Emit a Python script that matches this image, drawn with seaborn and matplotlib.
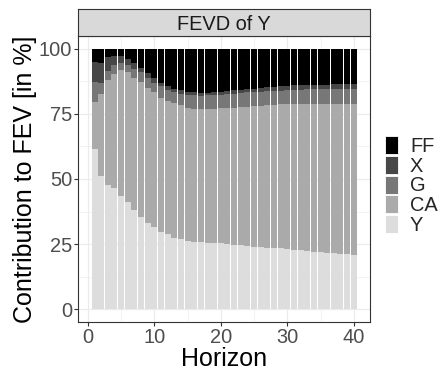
import numpy as np
import pandas as pd
import matplotlib
matplotlib.use("Agg")
import matplotlib.pyplot as plt
import seaborn as sns
from matplotlib.patches import Patch

# ---------------- data ----------------
horizon = list(range(1, 41))
fevd_Y = [61.6, 51.0, 47.6, 46.4, 43.3, 41.0, 38.2, 35.6, 33.3, 31.4,
          29.8, 28.7, 27.5, 26.9, 26.3, 26.0, 25.8, 25.3, 25.3, 25.3,
          24.9, 24.8, 24.6, 24.4, 24.0, 23.8, 23.7, 23.5, 23.4, 23.1,
          22.9, 22.8, 22.5, 22.1, 22.0, 21.7, 21.6, 21.3, 21.3, 21.0]
fevd_CA = [18.0, 31.6, 40.4, 44.0, 48.6, 49.9, 50.6, 51.7, 51.8, 51.8,
           51.3, 51.2, 51.5, 51.4, 50.9, 51.0, 51.1, 51.6, 51.7, 51.8,
           52.3, 52.6, 52.9, 53.2, 53.9, 54.3, 54.7, 55.0, 55.3, 55.7,
           55.9, 56.0, 56.3, 56.7, 56.8, 57.1, 57.2, 57.5, 57.5, 57.8]
fevd_G = [7.7, 4.4, 3.5, 3.4, 2.8, 2.7, 3.5, 3.6, 3.8, 3.8,
          4.6, 4.3, 4.4, 4.3, 4.9, 5.1, 5.1, 5.2, 5.3, 5.2,
          5.3, 5.2, 5.4, 5.6, 5.5, 5.4, 5.3, 5.3, 5.2, 5.4,
          5.5, 5.5, 5.6, 5.6, 5.6, 5.8, 5.8, 5.8, 5.8, 5.8]
fevd_X = [7.7, 7.5, 5.5, 3.5, 2.7, 2.5, 2.4, 1.8, 1.8, 1.8,
          1.3, 1.5, 1.2, 1.6, 1.4, 1.1, 0.9, 0.8, 0.9, 1.0,
          1.3, 1.5, 1.4, 1.2, 1.3, 1.6, 1.5, 1.7, 1.7, 1.5,
          1.6, 1.7, 1.7, 1.7, 1.7, 1.6, 1.8, 1.9, 1.9, 1.9]
fevd_FF = [5.0, 5.5, 3.0, 2.7, 2.6, 3.9, 5.3, 7.3, 9.3, 11.2,
           13.0, 14.3, 15.4, 15.8, 16.5, 16.8, 17.1, 17.1, 16.8, 16.7,
           16.2, 15.9, 15.7, 15.6, 15.3, 14.9, 14.8, 14.5, 14.4, 14.3,
           14.1, 14.0, 13.9, 13.9, 13.9, 13.8, 13.6, 13.5, 13.5, 13.5]

variables = ["FF", "X", "G", "CA", "Y"]
colors = ["#000000", "#474747", "#777777", "#AAAAAA", "#DDDDDD"]
x_ticks = [0, 10, 20, 30, 40]
y_ticks = [0, 25, 50, 75, 100]

series = {"FF": fevd_FF, "X": fevd_X, "G": fevd_G, "CA": fevd_CA, "Y": fevd_Y}
df = pd.concat(
    [pd.DataFrame({"Horizon": horizon, "variable": v, "value": series[v]})
     for v in variables],
    ignore_index=True,
)
palette = dict(zip(variables, colors))

# ---------------- style ----------------
sns.set_theme(style="white")
plt.rcParams["font.family"] = ["Liberation Sans", "DejaVu Sans"]

W, H = 443, 374
fig = plt.figure(figsize=(W / 100, H / 100), dpi=100)

pl, pr, pb, pt = 78.3, 370.0, 322.3, 35.7
strip_top = 9.3
ax = fig.add_axes([pl / W, 1 - pb / H, (pr - pl) / W, (pb - pt) / H])

sns.histplot(
    data=df, x="Horizon", weights="value", hue="variable",
    hue_order=variables, multiple="stack", discrete=True, shrink=0.9,
    palette=palette, alpha=1, linewidth=0, legend=False, ax=ax, zorder=2,
)

ax.set_xlim(-1.445, 42.445)
ax.set_ylim(-5, 105)
ax.set_xticks(x_ticks)
ax.set_yticks(y_ticks)
ax.set_xticks([5, 15, 25, 35], minor=True)
ax.set_yticks([12.5, 37.5, 62.5, 87.5], minor=True)
ax.set_axisbelow(True)
ax.grid(which="major", color="#EBEBEB", lw=0.8, zorder=0)
ax.grid(which="minor", color="#EBEBEB", lw=0.4, zorder=0)
ax.set_facecolor("white")
for s in ax.spines.values():
    s.set_visible(True)
    s.set_color("#333333")
    s.set_linewidth(0.8)

ax.tick_params(which="major", length=2.9, width=0.8, color="#333333",
               labelsize=14.4, labelcolor="#4D4D4D", pad=1.5,
               bottom=True, left=True)
ax.tick_params(which="minor", length=0)

ax.set_xlabel("Horizon", fontsize=18, color="black")
ax.set_ylabel("Contribution to FEV [in %]", fontsize=18, color="black")
ax.xaxis.label.set_va("baseline")
ax.xaxis.set_label_coords(0.5, (pb - 366.5) / (pb - pt))
ax.yaxis.label.set_va("baseline")
ax.yaxis.set_label_coords((31.7 - pl) / (pr - pl), 0.5)

# facet strip
sax = fig.add_axes([pl / W, 1 - pt / H, (pr - pl) / W, (pt - strip_top) / H])
sax.set_facecolor("#D9D9D9")
sax.set_xticks([])
sax.set_yticks([])
for s in sax.spines.values():
    s.set_visible(True)
    s.set_color("#333333")
    s.set_linewidth(0.8)
sax.text(0.5, 0.5, "FEVD of Y", ha="center", va="center_baseline",
         fontsize=14.4, color="#1A1A1A", transform=sax.transAxes)

# legend
handles = [Patch(facecolor=palette[v], edgecolor="white", linewidth=0.6)
           for v in variables]
fig.legend(handles, variables, loc="center left",
           bbox_to_anchor=(385 / W, 1 - 185.5 / H),
           bbox_transform=fig.transFigure, frameon=False,
           fontsize=14.4, handlelength=0.65, handleheight=1.0,
           labelspacing=0.0, handletextpad=0.6, borderpad=0,
           borderaxespad=0)

fig.savefig("out.png", dpi=100)
